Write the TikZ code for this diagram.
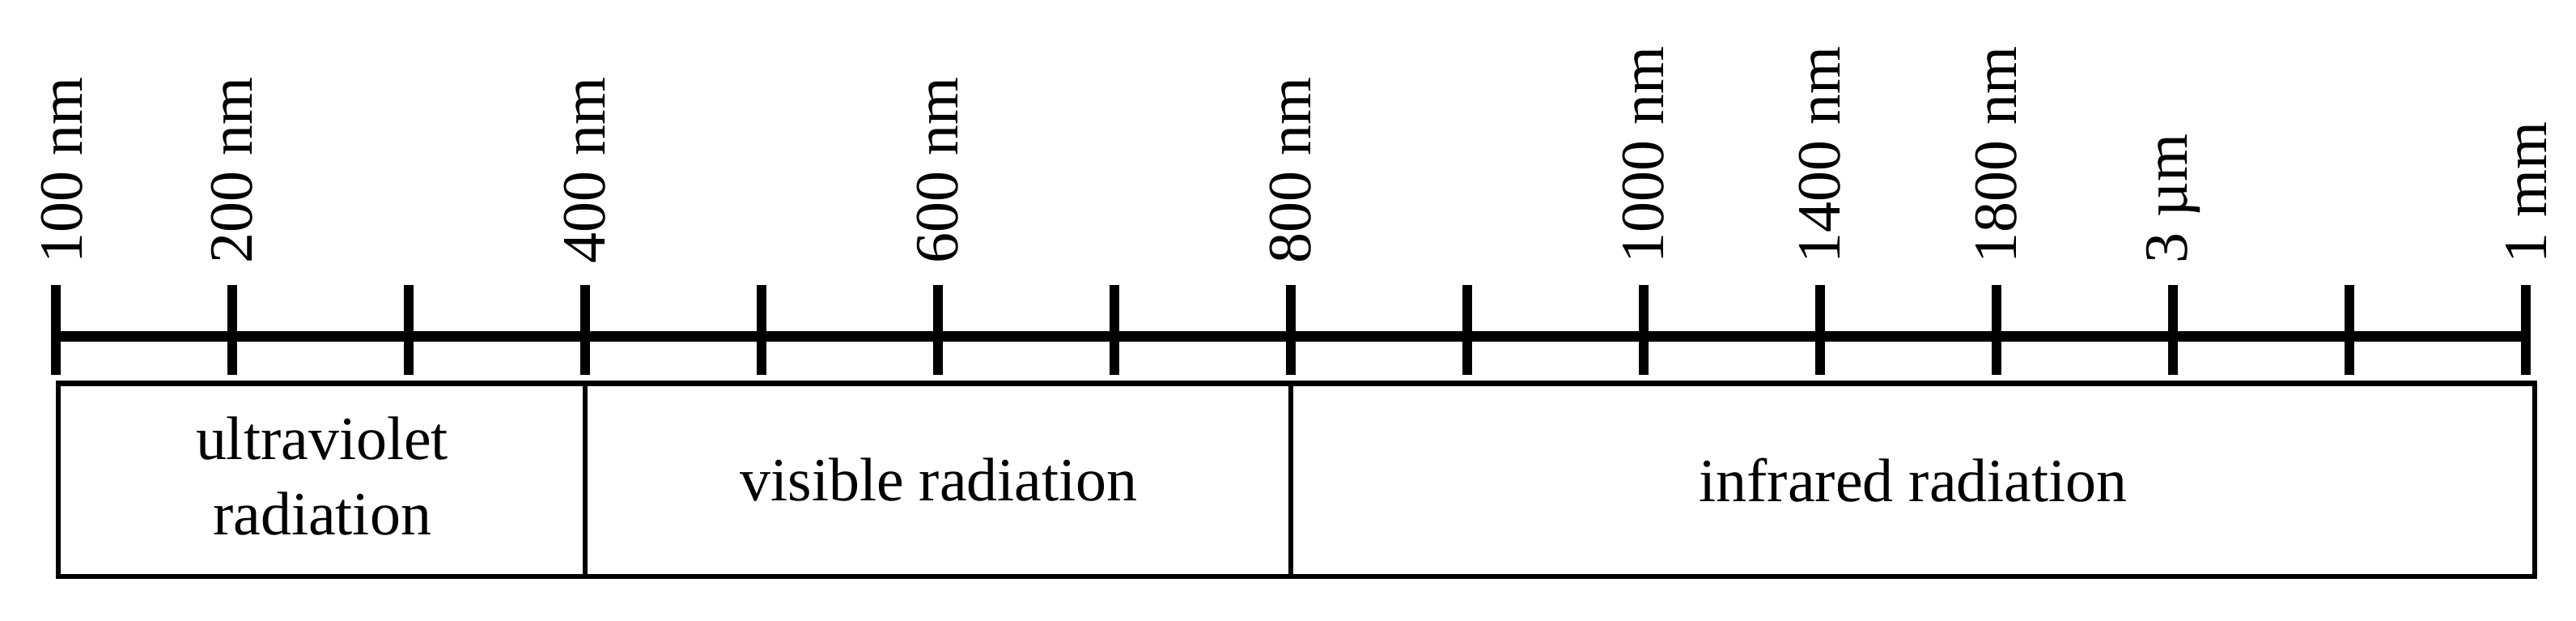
\documentclass[tikz,border=0pt]{standalone}
\usepackage{fontspec}
\setmainfont{Liberation Serif}
\usepackage{tikz}

\begin{document}
\begin{tikzpicture}
\tikzstyle{every node}=[font=\fontsize{10.8}{13.2}\selectfont];
\tikzstyle{scalelabel}=[rotate=90,anchor=west,inner sep=0pt];
\tikzstyle{bandtext}=[align=center,inner sep=0pt];
\tikzstyle{tick}=[line width=1.7pt];
\useasboundingbox (0,0) rectangle (15.915,3.83);
\foreach \i in {0,...,14}
  \coordinate (t\i) at (0.345+1.09*\i,1.755);
\coordinate (bl) at (0.36,0.27);
\coordinate (tr) at (15.66,1.4625);
\draw[line width=1.85pt] (t0) -- (t14);
\foreach \i in {0,...,14}
  \draw[tick] ([yshift=0.315cm]t\i) -- ([yshift=-0.24cm]t\i);
\path ([xshift=0.04cm,yshift=0.44cm]t0) node[scalelabel] (l0) {100 nm};
\foreach \i/\txt in {1/200 nm,3/400 nm,5/600 nm,7/800 nm,
                     9/1000 nm,10/1400 nm,11/1800 nm,12/3 µm,14/1 mm}
  \path ([yshift=0.44cm]t\i) node[scalelabel] (l\i) {\txt};
\draw[line width=0.9pt] (bl) rectangle (tr);
\draw[line width=0.9pt] (t3 |- bl) -- (t3 |- tr);
\draw[line width=0.9pt] (t7 |- bl) -- (t7 |- tr);
\path (1.99,0.89) node[bandtext] (uv) {ultraviolet\\radiation};
\path (5.80,0.866) node[bandtext] (vis) {visible radiation};
\path (11.82,0.866) node[bandtext] (ir) {infrared radiation};
\end{tikzpicture}
\end{document}
